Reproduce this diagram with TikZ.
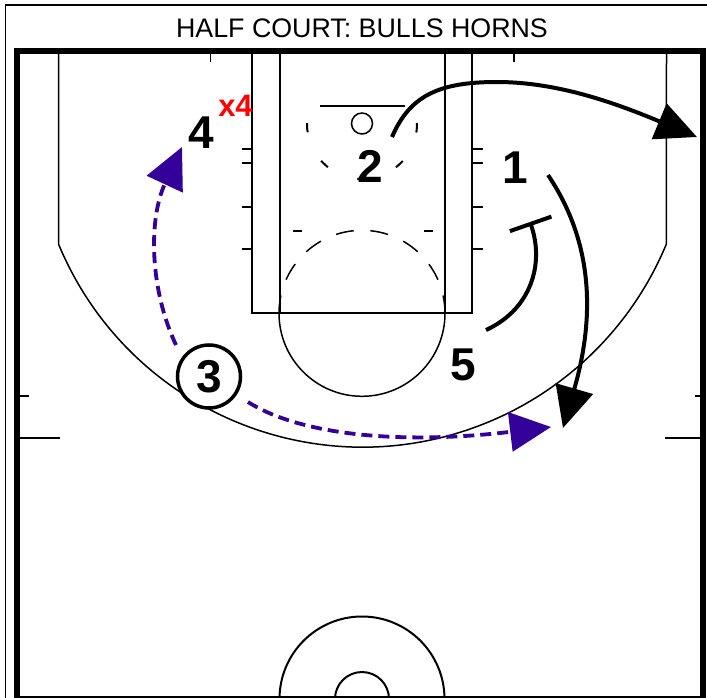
\documentclass[tikz,border=0pt]{standalone}
\usepackage{fontspec}
\setmainfont{Liberation Sans}
\usetikzlibrary{arrows.meta}
\definecolor{playpurple}{RGB}{51,0,153}
\definecolor{xred}{RGB}{255,0,0}
\begin{document}
\begin{tikzpicture}[x=1pt,y=-1pt,
  lanestyle/.style={line width=2pt},
  thinline/.style={line width=1.5pt},
  borderline/.style={line width=6pt},
  player/.style={font=\fontsize{46}{46}\selectfont\bfseries, inner sep=0pt},
  movearrow/.style={line width=4pt, -{Triangle[length=41pt,width=38pt]}},
  passarrow/.style={line width=3.8pt, draw=playpurple, dash pattern=on 11pt off 6pt, -{Triangle[length=41pt,width=39pt]}},
  screenline/.style={line width=4pt, -{Bar[width=44pt]}},
]
\useasboundingbox (0,0) rectangle (707,698);
\fill[white] (0,0) rectangle (707,698);
% outer thin frame
\draw[line width=1.2pt] (5.5,698) -- (5.5,5) -- (707,5);
% title
\node[font=\fontsize{26.8}{27}\selectfont, inner sep=0pt] (title) at (362,28) {HALF COURT: BULLS HORNS};
% half court line
\draw[lanestyle] (17,697) -- (703,697);
% court border
\draw[borderline] (17,698) -- (17,51) -- (703,51) -- (703,698);
% three point line
\draw[thinline] (58.5,51) -- (58.5,244) arc[start angle=157.5, end angle=22.5, radius=329] -- (666.5,51);
% side marks
\draw[lanestyle] (20,395.5) -- (29,395.5);
\draw[lanestyle] (20,437.5) -- (60,437.5);
\draw[lanestyle] (695,395.5) -- (700,395.5);
\draw[lanestyle] (665,437.5) -- (700,437.5);
% top ticks
\draw[thinline] (210.5,54) -- (210.5,62);
\draw[thinline] (514,54) -- (514,62);
% lane
\draw[lanestyle] (252.3,51) -- (252.3,313.3) -- (472.3,313.3) -- (472.3,51);
\draw[lanestyle] (279.5,51) -- (279.5,313.3);
\draw[lanestyle] (445,51) -- (445,313.3);
% lane hash marks
\foreach \yy in {149,163,207,249} {
  \draw[lanestyle] (242,\yy) -- (252.3,\yy);
  \draw[lanestyle] (472.3,\yy) -- (483,\yy);
}
% free throw circle
\draw[thinline] (445,313.3) arc[start angle=0, end angle=180, radius=83];
\draw[thinline, dash pattern=on 18pt off 16.7pt] (279,313.3) arc[start angle=180, end angle=360, radius=83];
\draw[lanestyle] (293,230.5) -- (302,230.5);
\draw[lanestyle] (424,230.5) -- (433,230.5);
% backboard and rim
\draw[lanestyle] (320,105.7) -- (405,105.7);
\draw[thinline] (362,123.5) circle[radius=10.5];
% restricted area
\draw[lanestyle, dash pattern=on 9.3pt off 32pt] (362,124) ++(181:55) arc[start angle=181, end angle=-1, radius=55];
% midcourt circles
\draw[lanestyle] (279.5,699) arc[start angle=180, end angle=360, radius=82.5];
\draw[lanestyle] (335,699) arc[start angle=180, end angle=360, radius=27];

% players
\node[player] (p4) at (201.5,133) {4};
\node[font=\fontsize{31}{31}\selectfont\bfseries, text=xred, inner sep=0pt] (x4) at (235.5,106) {x4};
\node[player] (p2) at (370.5,166) {2};
\node[player] (p1) at (515,168) {1};
\node[player] (p5) at (463,365) {5};
\node[player, circle, draw, fill=white, line width=3.5pt, minimum size=63pt] (p3) at (209,376.5) {3};

% connector end points
\coordinate (s2) at (392,137);
\coordinate (top2) at (497,82);
\coordinate (e2) at (697,137);
\coordinate (s1) at (548,175);
\coordinate (e1) at (563,428);
\coordinate (s5) at (486,330);
\coordinate (e5) at (530,222);
\coordinate (s3a) at (176,345);
\coordinate (e3a) at (182,147);
\coordinate (s3b) at (248,402);
\coordinate (e3b) at (551,427);

% 2 cuts to the corner
\draw[movearrow] (s2) .. controls (410,95) and (440,82) .. (top2) .. controls (560,82) and (620,105) .. (e2);
% 1 cuts down
\draw[movearrow] (s1) .. controls (585,230) and (600,300) .. (e1);
% 5 screens
\draw[screenline] (s5) .. controls (530,310) and (545,265) .. (e5);
% 3 passes
\draw[passarrow] (s3a) .. controls (150,290) and (148,220) .. (e3a);
\draw[passarrow] (s3b) .. controls (300,435) and (400,445) .. (e3b);
\end{tikzpicture}
\end{document}
